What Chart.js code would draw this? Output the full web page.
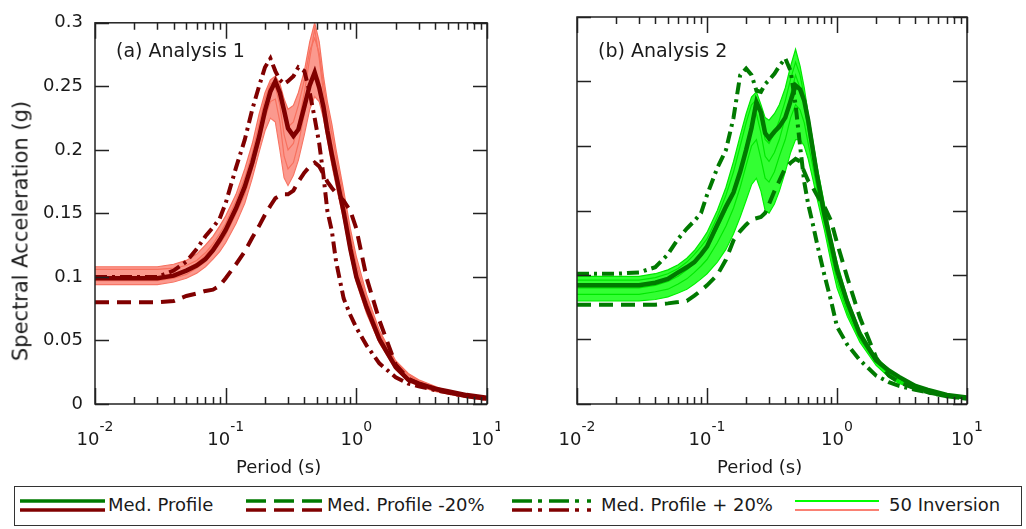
<!DOCTYPE html>
<html>
<head>
<meta charset="utf-8">
<script src="https://cdn.jsdelivr.net/npm/chart.js@4.4.0/dist/chart.umd.min.js"></script>
<style>
  body { margin: 0; background: #fff; }
  #wrap { position: relative; width: 1026px; height: 529px; overflow: hidden; font-family: "DejaVu Sans", sans-serif; color: #1a1a1a; }
  #wrap canvas { position: absolute; top: 0; }
  .txt { position: absolute; white-space: nowrap; line-height: 1; }
  #legendBox { position: absolute; left: 14px; top: 486px; width: 1008px; height: 40px; border: 1.5px solid #333; box-sizing: border-box; }
</style>
</head>
<body>
<div id="wrap">
  <canvas id="chartA" width="500" height="480" style="left:0"></canvas>
  <canvas id="chartB" width="500" height="480" style="left:500px"></canvas>

  <div class="txt" style="left:21px;top:231px;font-size:21px;transform:translate(-50%,-50%) rotate(-90deg)">Spectral Acceleration (g)</div>
  <div class="txt" style="left:116px;top:41px;font-size:19px">(a) Analysis 1</div>
  <div class="txt" style="left:598px;top:41px;font-size:19px">(b) Analysis 2</div>
  <div class="txt" style="left:236px;top:458px;font-size:18px">Period (s)</div>
  <div class="txt" style="left:717px;top:458px;font-size:18px">Period (s)</div>

  <div id="legendBox"></div>
  <svg width="1026" height="43" style="position:absolute;left:0;top:486px">
    <line x1="20" y1="15" x2="105" y2="15" stroke="#007a00" stroke-width="3.5"/>
    <line x1="20" y1="24" x2="105" y2="24" stroke="#800000" stroke-width="3.5"/>
    <line x1="246" y1="15" x2="322" y2="15" stroke="#007a00" stroke-width="3.5" stroke-dasharray="20 8"/>
    <line x1="246" y1="24" x2="322" y2="24" stroke="#800000" stroke-width="3.5" stroke-dasharray="20 8"/>
    <path d="M512 15H532M538 15H542M549 15H569M575 15H579M587 15H591" stroke="#007a00" stroke-width="3.5"/>
    <path d="M512 24H532M538 24H542M549 24H569M575 24H579M587 24H591" stroke="#800000" stroke-width="3.5"/>
    <line x1="795" y1="15" x2="879" y2="15" stroke="#00ff00" stroke-width="2"/>
    <line x1="795" y1="24" x2="879" y2="24" stroke="#fa8072" stroke-width="2"/>
  </svg>
  <div class="txt" style="left:108px;top:496px;font-size:18px">Med. Profile</div>
  <div class="txt" style="left:327px;top:496px;font-size:18px">Med. Profile -20%</div>
  <div class="txt" style="left:601px;top:496px;font-size:18px">Med. Profile + 20%</div>
  <div class="txt" style="left:889px;top:496px;font-size:18px">50 Inversion</div>
</div>

<script>
// periods (s) shared by every curve
const periods = [0.01,0.02,0.03,0.04,0.05,0.06,0.07,0.08,0.09,0.1,0.12,0.14,0.16,0.18,0.2,0.22,0.24,0.26,0.28,0.3,0.33,0.36,0.4,0.44,0.48,0.52,0.56,0.6,0.65,0.7,0.8,0.9,1.0,1.2,1.5,2,2.5,3,4,5,7,10];

// (a) Analysis 1
const a1Median  = [0.099,0.099,0.099,0.101,0.105,0.109,0.114,0.121,0.129,0.137,0.154,0.171,0.190,0.210,0.231,0.246,0.254,0.245,0.231,0.217,0.211,0.216,0.234,0.251,0.261,0.249,0.234,0.215,0.196,0.180,0.151,0.122,0.100,0.076,0.051,0.029,0.019,0.016,0.012,0.010,0.007,0.005];
const a1Minus20 = [0.080,0.080,0.080,0.081,0.085,0.087,0.089,0.090,0.093,0.099,0.110,0.120,0.131,0.140,0.149,0.156,0.162,0.164,0.165,0.165,0.168,0.175,0.182,0.187,0.190,0.187,0.181,0.175,0.170,0.166,0.160,0.152,0.138,0.099,0.066,0.031,0.020,0.016,0.012,0.009,0.006,0.004];
const a1Plus20  = [0.100,0.100,0.100,0.105,0.112,0.122,0.132,0.139,0.146,0.158,0.186,0.208,0.232,0.250,0.265,0.272,0.262,0.255,0.252,0.254,0.258,0.265,0.262,0.245,0.225,0.205,0.180,0.152,0.136,0.112,0.083,0.070,0.060,0.046,0.032,0.021,0.016,0.014,0.011,0.009,0.006,0.004];
const a1InvHigh = [0.108,0.108,0.108,0.110,0.113,0.118,0.125,0.132,0.140,0.148,0.165,0.185,0.205,0.228,0.245,0.255,0.258,0.252,0.240,0.232,0.235,0.245,0.262,0.285,0.300,0.285,0.258,0.238,0.220,0.200,0.168,0.138,0.116,0.086,0.058,0.034,0.024,0.019,0.014,0.010,0.007,0.005];
const a1InvLow  = [0.094,0.094,0.094,0.096,0.099,0.103,0.108,0.114,0.120,0.127,0.142,0.158,0.178,0.198,0.215,0.225,0.222,0.200,0.178,0.172,0.180,0.192,0.212,0.232,0.242,0.238,0.225,0.208,0.188,0.172,0.145,0.117,0.096,0.071,0.048,0.027,0.018,0.014,0.010,0.008,0.005,0.003];
const a1InvA    = [0.100,0.100,0.100,0.102,0.106,0.111,0.117,0.124,0.131,0.138,0.155,0.172,0.193,0.215,0.235,0.248,0.250,0.235,0.212,0.200,0.205,0.220,0.245,0.272,0.295,0.272,0.245,0.225,0.205,0.188,0.158,0.128,0.106,0.079,0.054,0.031,0.021,0.017,0.013,0.009,0.006,0.004];
const a1InvB    = [0.097,0.097,0.097,0.099,0.102,0.107,0.112,0.119,0.126,0.133,0.150,0.165,0.185,0.205,0.225,0.238,0.240,0.222,0.195,0.185,0.190,0.205,0.228,0.250,0.262,0.255,0.238,0.218,0.198,0.182,0.152,0.124,0.102,0.075,0.051,0.030,0.020,0.016,0.012,0.008,0.006,0.004];
const a1InvC    = [0.106,0.106,0.106,0.107,0.109,0.113,0.119,0.126,0.134,0.142,0.160,0.178,0.198,0.220,0.240,0.252,0.254,0.245,0.228,0.218,0.222,0.235,0.255,0.278,0.288,0.276,0.252,0.232,0.212,0.195,0.162,0.132,0.110,0.082,0.056,0.033,0.023,0.018,0.013,0.010,0.007,0.004];

// (b) Analysis 2
const a2Median  = [0.092,0.092,0.092,0.094,0.097,0.102,0.106,0.110,0.116,0.122,0.139,0.153,0.164,0.180,0.197,0.214,0.234,0.226,0.210,0.206,0.211,0.215,0.222,0.235,0.247,0.244,0.235,0.220,0.198,0.178,0.147,0.125,0.104,0.079,0.054,0.034,0.026,0.021,0.014,0.011,0.007,0.005];
const a2Minus20 = [0.077,0.077,0.077,0.077,0.078,0.079,0.080,0.084,0.088,0.092,0.100,0.112,0.127,0.134,0.139,0.143,0.144,0.145,0.148,0.155,0.165,0.173,0.183,0.187,0.190,0.188,0.180,0.173,0.168,0.162,0.153,0.142,0.125,0.098,0.067,0.036,0.022,0.017,0.012,0.009,0.006,0.004];
const a2Plus20  = [0.101,0.101,0.102,0.106,0.116,0.128,0.136,0.142,0.148,0.162,0.183,0.197,0.222,0.255,0.260,0.255,0.243,0.242,0.248,0.251,0.256,0.262,0.268,0.258,0.232,0.200,0.172,0.155,0.140,0.125,0.100,0.080,0.060,0.046,0.034,0.022,0.017,0.014,0.011,0.009,0.006,0.004];
const a2InvHigh = [0.099,0.099,0.099,0.101,0.104,0.108,0.113,0.119,0.126,0.133,0.150,0.168,0.188,0.208,0.225,0.238,0.242,0.232,0.222,0.220,0.225,0.232,0.245,0.262,0.275,0.262,0.245,0.225,0.205,0.185,0.155,0.130,0.110,0.082,0.057,0.036,0.027,0.021,0.015,0.011,0.007,0.005];
const a2InvLow  = [0.080,0.080,0.080,0.081,0.083,0.086,0.089,0.093,0.097,0.101,0.110,0.120,0.132,0.145,0.158,0.170,0.175,0.165,0.150,0.148,0.155,0.165,0.180,0.195,0.205,0.205,0.200,0.190,0.175,0.160,0.135,0.110,0.090,0.068,0.048,0.030,0.021,0.016,0.012,0.009,0.006,0.004];
const a2InvA    = [0.090,0.090,0.090,0.092,0.095,0.099,0.104,0.109,0.115,0.121,0.136,0.150,0.165,0.182,0.200,0.218,0.225,0.210,0.192,0.188,0.195,0.205,0.222,0.240,0.255,0.245,0.232,0.212,0.192,0.172,0.145,0.120,0.100,0.074,0.052,0.033,0.024,0.018,0.013,0.010,0.007,0.004];
const a2InvB    = [0.085,0.085,0.085,0.087,0.089,0.093,0.097,0.102,0.107,0.112,0.125,0.138,0.152,0.168,0.185,0.200,0.205,0.190,0.175,0.172,0.180,0.192,0.205,0.222,0.232,0.228,0.218,0.202,0.185,0.168,0.140,0.116,0.096,0.071,0.050,0.032,0.023,0.017,0.012,0.009,0.006,0.004];
const a2InvC    = [0.096,0.096,0.096,0.098,0.101,0.105,0.110,0.116,0.122,0.128,0.145,0.162,0.180,0.200,0.218,0.232,0.236,0.222,0.205,0.202,0.210,0.220,0.235,0.252,0.265,0.255,0.238,0.220,0.200,0.180,0.150,0.125,0.105,0.078,0.055,0.035,0.025,0.019,0.014,0.010,0.007,0.005];

// axis ticks
const yTicks = [0, 0.05, 0.1, 0.15, 0.2, 0.25, 0.3];
const yTickLabels = ['0', '0.05', '0.1', '0.15', '0.2', '0.25', '0.3'];
const xDecades = [0.01, 0.1, 1, 10];
const xDecadeExp = ['-2', '-1', '0', '1'];

Chart.defaults.font.family = '"DejaVu Sans", sans-serif';
Chart.defaults.color = '#1a1a1a';

function pts(vals) {
  return periods.map((p, i) => ({ x: p, y: vals[i] }));
}

// box with inward ticks on all four sides + 10^n labels
const frameTicks = {
  id: 'frameTicks',
  afterDatasetsDraw(chart) {
    const { ctx, chartArea: a, scales: { x, y } } = chart;
    ctx.save();
    ctx.strokeStyle = '#222';
    ctx.lineWidth = 1.5;
    ctx.beginPath();
    yTicks.forEach(v => {
      const py = Math.round(y.getPixelForValue(v)) + 0.5;
      ctx.moveTo(a.left, py); ctx.lineTo(a.left + 14, py);
      ctx.moveTo(a.right, py); ctx.lineTo(a.right - 14, py);
    });
    xDecades.forEach((d, k) => {
      for (let m = 1; m <= 9; m++) {
        if (k === xDecades.length - 1 && m > 1) break;
        const px = Math.round(x.getPixelForValue(d * m)) + 0.5;
        const len = m === 1 ? 16 : 7;
        ctx.moveTo(px, a.bottom); ctx.lineTo(px, a.bottom - len);
        ctx.moveTo(px, a.top); ctx.lineTo(px, a.top + len);
      }
    });
    ctx.stroke();
    ctx.strokeRect(a.left, a.top, a.right - a.left, a.bottom - a.top);

    ctx.fillStyle = '#1a1a1a';
    ctx.textBaseline = 'alphabetic';
    ctx.textAlign = 'left';
    xDecades.forEach((d, k) => {
      const px = x.getPixelForValue(d);
      ctx.font = '18px "DejaVu Sans"';
      const wBase = ctx.measureText('10').width;
      ctx.font = '14px "DejaVu Sans"';
      const wExp = ctx.measureText(xDecadeExp[k]).width;
      const left = px - (wBase + wExp) / 2;
      ctx.font = '18px "DejaVu Sans"';
      ctx.fillText('10', left, 445);
      ctx.font = '14px "DejaVu Sans"';
      ctx.fillText(xDecadeExp[k], left + wBase, 431);
    });
    ctx.restore();
  }
};

function makePanel(id, s, col, yWidth, padRight, showY) {
  const invLine = (vals) => ({
    data: pts(vals), borderColor: col.invLine, borderWidth: 1.2, pointRadius: 0, fill: false
  });
  new Chart(document.getElementById(id), {
    type: 'line',
    data: {
      datasets: [
        { data: pts(s.median), borderColor: col.dark, borderWidth: 4.5, pointRadius: 0, fill: false },
        { data: pts(s.minus20), borderColor: col.dark, borderWidth: 4, borderDash: [14, 8], pointRadius: 0, fill: false },
        { data: pts(s.plus20), borderColor: col.dark, borderWidth: 4, borderDash: [12, 5, 3, 5], pointRadius: 0, fill: false },
        invLine(s.invA),
        invLine(s.invB),
        invLine(s.invC),
        { data: pts(s.invHigh), borderColor: col.invLine, borderWidth: 1.2, pointRadius: 0, fill: '+1', backgroundColor: col.invFill },
        invLine(s.invLow)
      ]
    },
    options: {
      responsive: false,
      animation: false,
      layout: { padding: { top: 17, right: padRight, left: 0, bottom: 0 } },
      plugins: { legend: { display: false }, tooltip: { enabled: false } },
      scales: {
        x: {
          type: 'logarithmic', min: 0.01, max: 10,
          grid: { display: false, drawTicks: false }, border: { display: false },
          ticks: { display: false },
          afterFit: sc => { sc.height = 76; }
        },
        y: {
          min: 0, max: 0.3,
          grid: { display: false, drawTicks: false }, border: { display: false },
          afterBuildTicks: sc => { sc.ticks = yTicks.map(v => ({ value: v })); },
          ticks: {
            display: showY, padding: 12,
            font: { size: 18 }, color: '#1a1a1a',
            callback: (v, i) => yTickLabels[i]
          },
          afterFit: sc => { sc.width = yWidth; }
        }
      }
    },
    plugins: [frameTicks]
  });
}

makePanel('chartA', {
  median: a1Median, minus20: a1Minus20, plus20: a1Plus20,
  invHigh: a1InvHigh, invLow: a1InvLow, invA: a1InvA, invB: a1InvB, invC: a1InvC
}, { dark: '#800000', invLine: '#f7715f', invFill: 'rgba(250,128,114,0.8)' }, 95, 13, true);

makePanel('chartB', {
  median: a2Median, minus20: a2Minus20, plus20: a2Plus20,
  invHigh: a2InvHigh, invLow: a2InvLow, invA: a2InvA, invB: a2InvB, invC: a2InvC
}, { dark: '#007a00', invLine: '#00e800', invFill: 'rgba(0,255,0,0.8)' }, 77, 33, false);
</script>
</body>
</html>
